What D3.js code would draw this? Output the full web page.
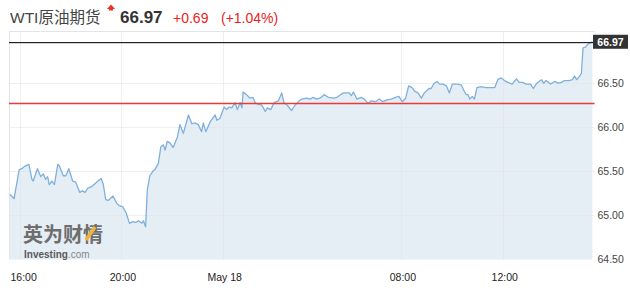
<!DOCTYPE html>
<html><head><meta charset="utf-8">
<script src="https://cdn.jsdelivr.net/npm/d3@7"></script>
<style>
html,body{margin:0;padding:0;background:#fff;}
svg{display:block;font-family:"Liberation Sans",Arial,"Noto Sans CJK SC",sans-serif;}
</style></head><body>
<svg id="c" width="630" height="292"></svg>
<script>
// ---- data ----
const title = "WTI原油期货";
const lastPrice = 66.97;
const changeText = "+0.69";
const pctText = "(+1.04%)";
const prevClose = 66.28;
const yTicks = [66.5, 66.0, 65.5, 65.0, 64.5];
const xTickTimes = ["2021-05-17 16:00","2021-05-17 20:00","2021-05-18 00:00","2021-05-18 08:00","2021-05-18 12:00"];
const xTickLabels = ["16:00","20:00","May 18","08:00","12:00"];
// session May 17 evening
const evening = [["15:37",65.24],["15:47",65.19],["15:59",65.52],["16:05",65.53],["16:13",65.56],["16:22",65.58],["16:29",65.41],["16:32",65.39],["16:42",65.53],["16:50",65.44],["16:56",65.47],["17:01",65.41],["17:06",65.44],["17:10",65.35],["17:16",65.39],["17:22",65.35],["17:30",65.58],["17:33",65.57],["17:43",65.45],["17:49",65.45],["17:56",65.53],["18:05",65.39],["18:12",65.38],["18:22",65.26],["18:28",65.28],["18:34",65.26],["18:41",65.31],["18:51",65.33],["19:02",65.38],["19:12",65.42],["19:17",65.36],["19:23",65.18],["19:29",65.17],["19:40",65.22],["19:49",65.14],["19:55",65.11],["20:03",65.10],["20:11",65.03],["20:19",64.91],["20:27",64.93],["20:34",64.92],["20:40",64.94],["20:48",64.91],["20:52",64.94],["20:57",64.87],["21:01",65.29],["21:07",65.45],["21:14",65.50],["21:19",65.52],["21:27",65.59],["21:33",65.78],["21:39",65.80],["21:43",65.74],["21:48",65.84],["21:55",65.82],["22:02",65.77],["22:12",65.89],["22:18",66.03],["22:26",65.93],["22:38",66.14],["22:46",66.04],["22:53",66.05],["23:01",66.03],["23:09",65.95],["23:13",66.05],["23:19",65.95],["23:29",66.06],["23:41",66.14],["23:45",66.08],["23:52",66.10]];
// session May 18 overnight (before 05:00 break)
const overnight = [["00:02",66.23],["00:08",66.20],["00:14",66.23],["00:20",66.22],["00:28",66.28],["00:33",66.20],["00:40",66.28],["00:44",66.22],["00:47",66.40],["00:55",66.37],["01:03",66.33],["01:10",66.34],["01:15",66.28],["01:23",66.26],["01:31",66.25],["01:39",66.18],["01:44",66.22],["01:52",66.20],["02:00",66.28],["02:10",66.30],["02:18",66.39],["02:23",66.28],["02:31",66.25],["02:41",66.19],["02:49",66.25],["02:59",66.30],["03:05",66.32],["03:17",66.33],["03:25",66.32],["03:32",66.34],["03:40",66.32],["03:48",66.33],["03:58",66.37],["04:08",66.34],["04:20",66.33],["04:28",66.34],["04:34",66.36],["04:43",66.39],["04:57",66.39]];
// session May 18 day (after 06:00)
const daytime = [["06:02",66.36],["06:07",66.40],["06:15",66.32],["06:25",66.34],["06:33",66.32],["06:41",66.27],["06:49",66.30],["06:59",66.29],["07:08",66.32],["07:16",66.29],["07:26",66.31],["07:36",66.32],["07:46",66.34],["07:54",66.35],["08:02",66.29],["08:10",66.33],["08:17",66.47],["08:25",66.45],["08:31",66.41],["08:39",66.39],["08:47",66.33],["08:54",66.39],["09:05",66.44],["09:10",66.44],["09:17",66.50],["09:24",66.52],["09:30",66.49],["09:38",66.49],["09:46",66.47],["09:53",66.39],["10:00",66.49],["10:11",66.49],["10:21",66.48],["10:29",66.40],["10:33",66.37],["10:37",66.37],["10:41",66.32],["10:47",66.35],["10:52",66.32],["10:58",66.45],["11:08",66.46],["11:18",66.45],["11:28",66.45],["11:40",66.45],["11:47",66.54],["11:55",66.56],["12:03",66.53],["12:11",66.51],["12:21",66.49],["12:31",66.55],["12:37",66.51],["12:46",66.51],["12:54",66.49],["13:04",66.49],["13:11",66.44],["13:19",66.50],["13:30",66.54],["13:35",66.50],["13:41",66.53],["13:51",66.49],["14:01",66.52],["14:09",66.50],["14:17",66.51],["14:24",66.53],["14:35",66.53],["14:43",66.54],["14:48",66.58],["14:53",66.54],["15:00",66.58],["15:04",66.61],["15:08",66.90],["15:14",66.91],["15:19",66.94],["15:25",66.96],["15:30",66.97]];

// ---- build ----
const parse = d3.timeParse("%Y-%m-%d %H:%M");
const data = [
  ...evening.map(d => ({t: parse("2021-05-17 " + d[0]), v: d[1]})),
  ...overnight.map(d => ({t: parse("2021-05-18 " + d[0]), v: d[1]})),
  ...daytime.map(d => ({t: parse("2021-05-18 " + d[0]), v: d[1]}))
];

const L = 9, R = 594.5, T = 31, B = 259.5;
const xBreak = 350.5;
const x = d3.scaleTime()
  .domain([parse("2021-05-17 15:35"), parse("2021-05-18 05:00"), parse("2021-05-18 06:00"), parse("2021-05-18 15:35")])
  .range([L, xBreak, xBreak, R]);
const y = d3.scaleLinear().domain([64.5, 66.5]).range([B, 83.2]);

const svg = d3.select("#c");

// plot frame
svg.append("line").attr("x1", L).attr("x2", R).attr("y1", T + 0.5).attr("y2", T + 0.5).attr("stroke", "#e3e4e8");
svg.append("line").attr("x1", L + 0.5).attr("x2", L + 0.5).attr("y1", T).attr("y2", B).attr("stroke", "#e3e4e8");

// area + line
const area = d3.area().x(d => x(d.t)).y0(B).y1(d => y(d.v));
svg.append("path").datum(data).attr("d", area).attr("fill", "#e6eef5");

// grid
const g = svg.append("g");
g.selectAll(".hg").data(yTicks.slice(0, 4)).enter().append("line")
  .attr("x1", L).attr("x2", R).attr("y1", d => Math.round(y(d)) + 0.5).attr("y2", d => Math.round(y(d)) + 0.5)
  .attr("stroke", "#dde3ea").attr("stroke-opacity", 0.55);
g.selectAll(".vg").data(xTickTimes).enter().append("line")
  .attr("x1", d => Math.round(x(parse(d))) + 0.5).attr("x2", d => Math.round(x(parse(d))) + 0.5)
  .attr("y1", T).attr("y2", B)
  .attr("stroke", "#dde3ea").attr("stroke-opacity", 0.55);

const line = d3.line().x(d => x(d.t)).y(d => y(d.v));
svg.append("path").datum(data).attr("d", line).attr("fill", "none")
  .attr("stroke", "#7fb0dc").attr("stroke-width", 1.3).attr("stroke-linejoin", "round");

// watermark
const wm = svg.append("g");
wm.append("text").attr("x", 23).attr("y", 242).attr("font-size", 20).attr("font-weight", 700)
  .attr("font-family", "'Noto Sans CJK SC',sans-serif").attr("fill", "#6e6e6e").text("英为财情");
wm.append("line").attr("x1", 86).attr("y1", 240).attr("x2", 95).attr("y2", 227)
  .attr("stroke", "#f0b43a").attr("stroke-width", 3.5);
const wt = wm.append("text").attr("x", 24).attr("y", 257.5).attr("font-size", 10);
wt.append("tspan").attr("font-weight", 700).attr("fill", "#5a5a5a").text("Investing");
wt.append("tspan").attr("fill", "#888").text(".com");

// previous close & last price lines
svg.append("rect").attr("x", L).attr("width", R - L).attr("y", Math.round(y(prevClose)) - 0.25).attr("height", 1.5)
  .attr("fill", "#ea3a3a");
svg.append("rect").attr("x", L).attr("width", 593 - L).attr("y", Math.round(y(lastPrice))).attr("height", 1.2)
  .attr("fill", "#222");
svg.append("rect").attr("x", 593).attr("y", y(lastPrice) - 7).attr("width", 35).attr("height", 14).attr("fill", "#333");
svg.append("text").attr("x", 610.5).attr("y", y(lastPrice)).attr("dy", "0.36em").attr("text-anchor", "middle")
  .attr("font-size", 10.5).attr("font-weight", 700).attr("fill", "#fff").text(lastPrice.toFixed(2));

// y axis labels
svg.selectAll(".yl").data(yTicks).enter().append("text")
  .attr("x", 597.5).attr("y", d => y(d)).attr("dy", "0.35em")
  .attr("font-size", 10.5).attr("fill", "#444").text(d => d.toFixed(2));

// x axis labels
svg.selectAll(".xl").data(xTickTimes).enter().append("text")
  .attr("x", (d, i) => x(parse(d)) + (i === 0 ? 4 : 1.5)).attr("y", 281).attr("text-anchor", "middle")
  .attr("font-size", 10.5).attr("fill", "#222").text((d, i) => xTickLabels[i]);

// header
svg.append("text").attr("x", 10).attr("y", 23).attr("font-size", 15.5).attr("fill", "#444").text(title);
svg.append("path").attr("d", "M107,9 L111,4.5 L115,9 L113,9 L113,10.5 L109,10.5 L109,9 Z").attr("fill", "#e8322c");
svg.append("text").attr("x", 120).attr("y", 23).attr("font-size", 17).attr("font-weight", 700).attr("fill", "#333").text(lastPrice.toFixed(2));
svg.append("text").attr("x", 173).attr("y", 23).attr("font-size", 14).attr("fill", "#e8221e").text(changeText);
svg.append("text").attr("x", 221).attr("y", 23).attr("font-size", 14).attr("fill", "#e8221e").text(pctText);
</script>
</body></html>
